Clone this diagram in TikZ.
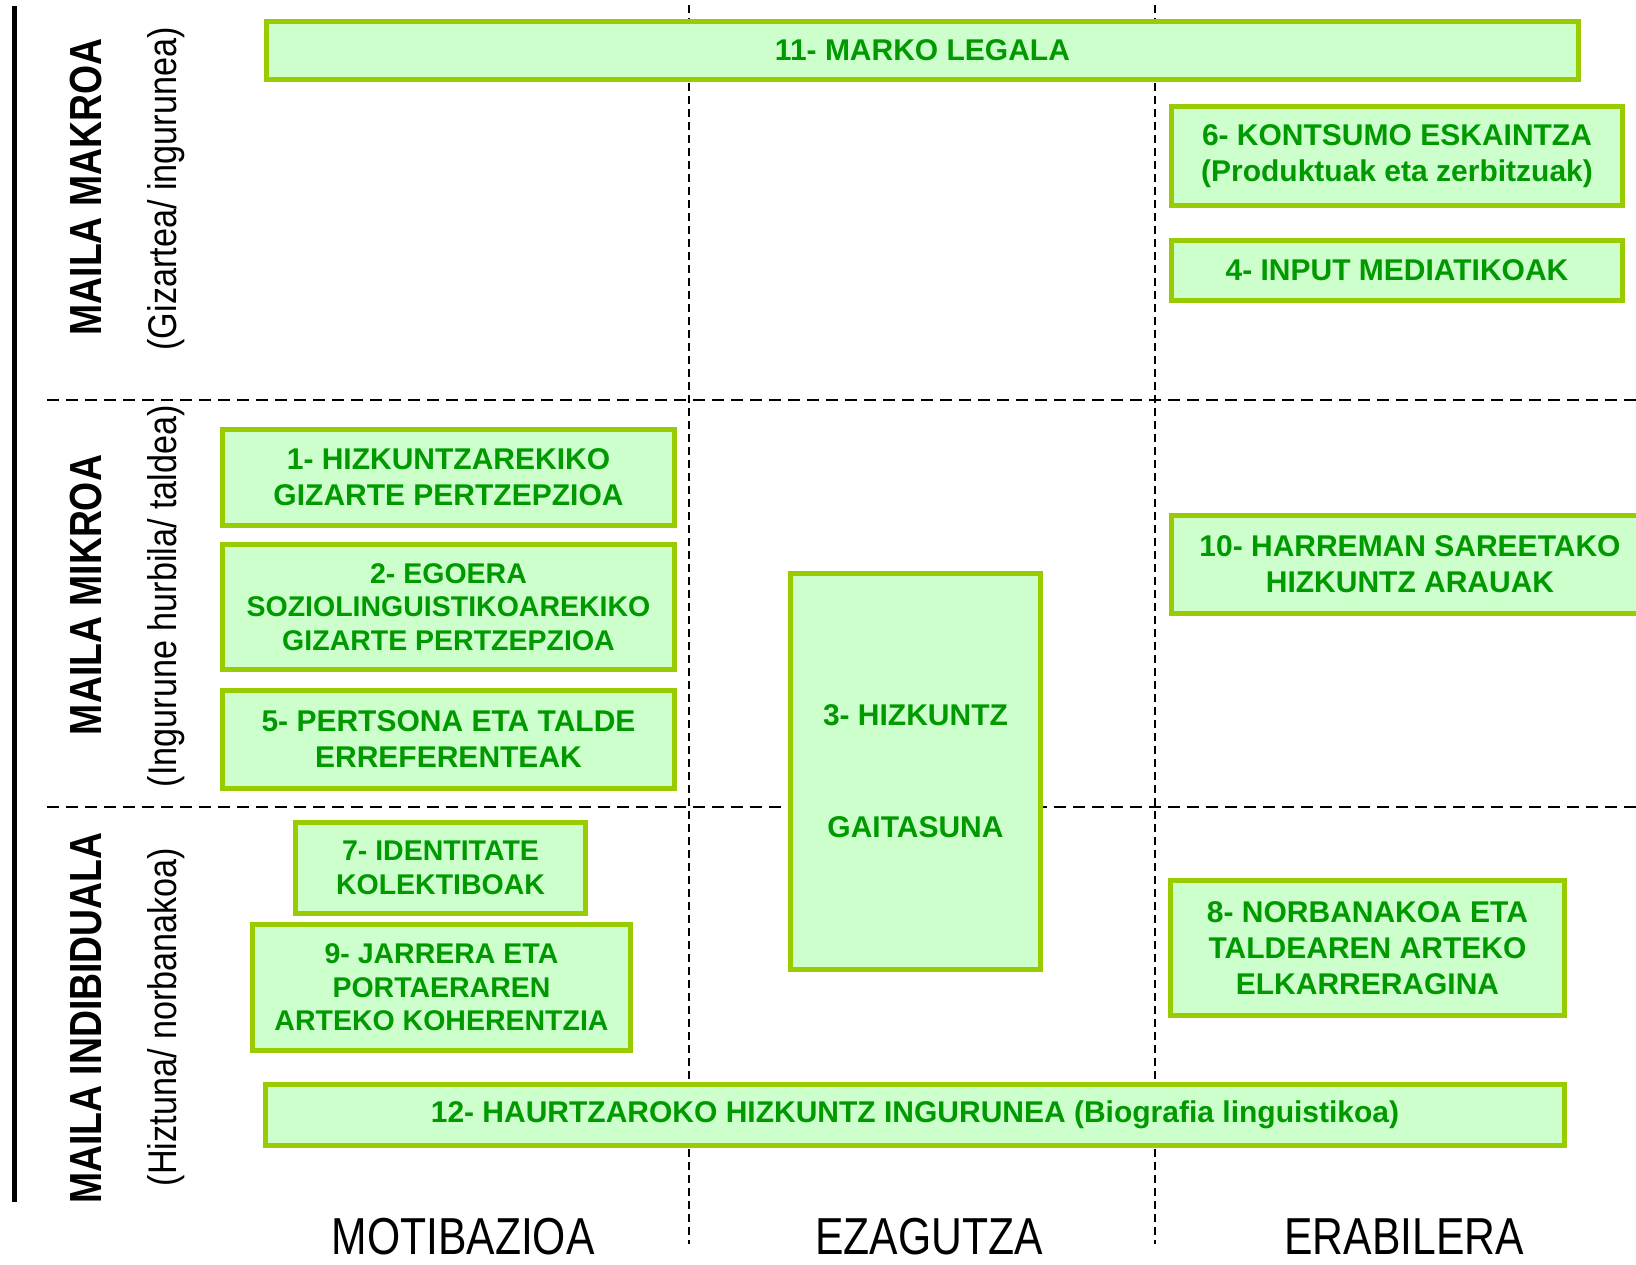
\documentclass[tikz,border=0pt]{standalone}
\usepackage{fontspec}
\setmainfont{Liberation Sans}
\newfontfamily\narrowfont[FakeStretch=0.82]{Liberation Sans}
\newfontfamily\sidefont[FakeStretch=0.855]{Liberation Sans}
\newfontfamily\sidefontb[FakeStretch=0.83]{Liberation Sans}
\definecolor{boxborder}{RGB}{153,204,0}
\definecolor{boxfill}{RGB}{204,255,204}
\definecolor{boxtext}{RGB}{0,153,0}
\tikzset{
  gbox/.style={draw=boxborder, fill=boxfill, line width=5pt, text=boxtext,
    font=\bfseries\fontsize{30}{36}\selectfont, align=center, inner sep=0pt},
  gboxs/.style={gbox, font=\bfseries\fontsize{28.5}{33.5}\selectfont},
  hsep/.style={line width=2pt, dash pattern=on 12pt off 7pt},
  vsep/.style={line width=2pt, dash pattern=on 8pt off 5pt},
  levelmain/.style={rotate=90, font=\sidefontb\bfseries\fontsize{45}{52}\selectfont, inner sep=0pt},
  levelsub/.style={rotate=90, font=\sidefont\fontsize{40}{48}\selectfont, inner sep=0pt},
  axislabel/.style={anchor=base, font=\narrowfont\fontsize{52}{60}\selectfont, inner sep=0pt}
}
\begin{document}
\begin{tikzpicture}[x=1pt, y=-1pt]
\useasboundingbox (0,0) rectangle (1636,1264);
% separators
\coordinate (v1t) at (689,5);   \coordinate (v1b) at (689,1244);
\coordinate (v2t) at (1155,5);  \coordinate (v2b) at (1155,1244);
\coordinate (h1l) at (47,400);  \coordinate (h1r) at (1640,400);
\coordinate (h2l) at (47,807);  \coordinate (h2r) at (1640,807);
\coordinate (blt) at (14.5,6);  \coordinate (blb) at (14.5,1202);
\draw[vsep] (v1t) -- (v1b);
\draw[vsep] (v2t) -- (v2b);
\draw[hsep] (h1l) -- (h1r);
\draw[hsep] (h2l) -- (h2r);
\draw[line width=4.5pt] (blt) -- (blb);
% level labels
\node[levelmain] (lmak) at (86,187) {MAILA MAKROA};
\node[levelsub]  (smak) at (166,189) {(Gizartea/ ingurunea)};
\node[levelmain] (lmik) at (86,595) {MAILA MIKROA};
\node[levelsub]  (smik) at (166,596) {(Ingurune hurbila/ taldea)};
\node[levelmain] (lind) at (86,1018) {MAILA INDIBIDUALA};
\node[levelsub]  (sind) at (166,1017) {(Hiztuna/ norbanakoa)};
% axis labels
\node[axislabel] (amot) at (463,1254) {MOTIBAZIOA};
\node[axislabel] (aeza) at (929,1254) {EZAGUTZA};
\node[axislabel] (aera) at (1404,1254) {ERABILERA};
% boxes
\node[gbox, minimum width=1312, minimum height=58] (b11) at (922.5,50.5) {11- MARKO LEGALA};
\node[gbox, minimum width=451, minimum height=99] (b6) at (1397,156) {6- KONTSUMO ESKAINTZA\\(Produktuak eta zerbitzuak)};
\node[gbox, minimum width=451, minimum height=60] (b4) at (1397,270.5) {4- INPUT MEDIATIKOAK};
\node[gbox, minimum width=452, minimum height=96] (b1) at (448.5,477.5) {1- HIZKUNTZAREKIKO\\GIZARTE PERTZEPZIOA};
\node[gboxs, minimum width=452, minimum height=125] (b2) at (448.5,607) {2- EGOERA\\SOZIOLINGUISTIKOAREKIKO\\GIZARTE PERTZEPZIOA};
\node[gbox, minimum width=452, minimum height=98] (b5) at (448.5,739.5) {5- PERTSONA ETA TALDE\\ERREFERENTEAK};
\node[gbox, minimum width=250, minimum height=396] (b3) at (915.5,771.5) {3- HIZKUNTZ\\[76pt]GAITASUNA};
\node[gbox, minimum width=477, minimum height=98] (b10) at (1410,564.5) {10- HARREMAN SAREETAKO\\HIZKUNTZ ARAUAK};
\node[gboxs, minimum width=290, minimum height=91] (b7) at (440.5,868) {7- IDENTITATE\\KOLEKTIBOAK};
\node[gboxs, minimum width=378, minimum height=126] (b9) at (441.5,987.5) {9- JARRERA ETA\\PORTAERAREN\\ARTEKO KOHERENTZIA};
\node[gbox, minimum width=394, minimum height=135] (b8) at (1367.5,948) {8- NORBANAKOA ETA\\TALDEAREN ARTEKO\\ELKARRERAGINA};
\node[gbox, minimum width=1299, minimum height=61] (b12) at (915,1115) {12- HAURTZAROKO HIZKUNTZ INGURUNEA (Biografia linguistikoa)};
\end{tikzpicture}
\end{document}
